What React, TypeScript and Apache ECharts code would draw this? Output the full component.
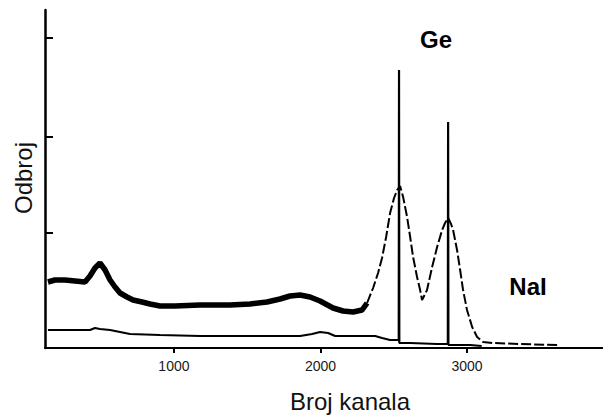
import React, { useEffect, useRef } from "react";
import * as echarts from "echarts";

// NaI detector spectrum (thick noisy part): [channel, counts]
const naiThickChannels = [140, 188, 257, 325, 393, 427, 461, 495, 530, 564, 598, 632, 680, 721, 782, 837, 905, 1007, 1178, 1383, 1519, 1635, 1724, 1792, 1861, 1929, 1997, 2086, 2154, 2222, 2284, 2318];
const naiThickCounts = [66, 68, 68, 67, 66, 72, 80, 85, 78, 68, 61, 55, 51, 48, 46, 44, 42, 42, 43, 43, 44, 46, 49, 52, 53, 51, 47, 40, 37, 36, 38, 45];

// NaI detector spectrum (peak region, dashed)
const naiPeakChannels = [2318, 2359, 2393, 2420, 2448, 2475, 2502, 2523, 2543, 2564, 2591, 2612, 2632, 2659, 2680, 2693, 2714, 2727, 2762, 2796, 2830, 2850, 2871, 2891, 2905, 2932, 2953, 2973, 3000, 3035, 3069, 3110, 3178, 3362, 3615];
const naiPeakCounts = [45, 60, 75, 90, 111, 135, 150, 158, 162, 151, 131, 111, 91, 71, 58, 48, 54, 58, 81, 101, 118, 125, 130, 124, 118, 98, 78, 58, 38, 21, 11, 6, 5, 4, 3];

// Ge detector spectrum
const geChannels = [140, 291, 427, 461, 495, 564, 700, 905, 1178, 1861, 1943, 1997, 2052, 2100, 2270, 2373, 2420, 2475, 2523, 2534, 2536, 2538, 2612, 2796, 2869, 2871, 2873, 3021, 3100];
const geCounts = [18, 18, 18, 20, 19, 18, 14, 13, 12, 12, 14, 16, 15, 12, 12, 12, 10, 8, 8, 8, 278, 5, 5, 4, 4, 226, 3, 3, 2];

const xTickValues = [1000, 2000, 3000];
const yTickValues = [115, 211, 310];

const FONT = "'Liberation Sans', Arial, sans-serif";

function pairs(xs: number[], ys: number[]) {
  return xs.map((x, i) => [x, ys[i]]);
}

export default function App() {
  const ref = useRef<HTMLDivElement>(null);
  useEffect(() => {
    if (!ref.current) return;
    const chart = echarts.init(ref.current, null, { renderer: "svg" });
    chart.setOption({
      animation: false,
      backgroundColor: "#ffffff",
      grid: { left: 45, right: 0, top: 10, bottom: 67 },
      xAxis: {
        type: "value",
        min: 120,
        max: 3928,
        splitLine: { show: false },
        axisLine: { show: true, onZero: false, lineStyle: { color: "#000", width: 2 } },
        axisTick: { show: true, customValues: xTickValues, length: 5, inside: false, lineStyle: { color: "#000", width: 2 } },
        axisLabel: {
          show: true,
          customValues: xTickValues,
          formatter: (v: number) => String(v),
          margin: 11,
          fontSize: 14,
          color: "#1a1a1a",
          fontFamily: FONT,
        },
      },
      yAxis: {
        type: "value",
        min: 0,
        max: 338,
        splitLine: { show: false },
        axisLine: { show: true, onZero: false, lineStyle: { color: "#000", width: 2.5 } },
        axisTick: { show: true, customValues: yTickValues, length: 8, inside: true, lineStyle: { color: "#000", width: 2 } },
        axisLabel: { show: false },
      },
      series: [
        {
          name: "NaI",
          type: "line",
          data: pairs(naiThickChannels, naiThickCounts),
          showSymbol: false,
          lineStyle: { color: "#000", width: 5.5 },
        },
        {
          name: "NaI peaks",
          type: "line",
          data: pairs(naiPeakChannels, naiPeakCounts),
          showSymbol: false,
          lineStyle: { color: "#000", width: 2, type: [10, 3] },
        },
        {
          name: "Ge",
          type: "line",
          data: pairs(geChannels, geCounts),
          showSymbol: false,
          lineStyle: { color: "#000", width: 2.2 },
        },
      ],
      graphic: [
        {
          type: "text",
          x: 23,
          y: 178,
          rotation: Math.PI / 2,
          style: { text: "Odbroj", font: `24px ${FONT}`, fill: "#111", align: "center", verticalAlign: "middle" },
        },
        {
          type: "text",
          x: 350,
          y: 401,
          style: { text: "Broj kanala", font: `24px ${FONT}`, fill: "#111", align: "center", verticalAlign: "middle" },
        },
        {
          type: "text",
          x: 436,
          y: 39,
          style: { text: "Ge", font: `bold 24px ${FONT}`, fill: "#000", align: "center", verticalAlign: "middle" },
        },
        {
          type: "text",
          x: 528,
          y: 286,
          style: { text: "NaI", font: `bold 24px ${FONT}`, fill: "#000", align: "center", verticalAlign: "middle" },
        },
      ],
    });
    return () => chart.dispose();
  }, []);
  return <div ref={ref} style={{ position: "fixed", left: 0, top: 0, width: 603, height: 415, background: "#fff" }} />;
}
